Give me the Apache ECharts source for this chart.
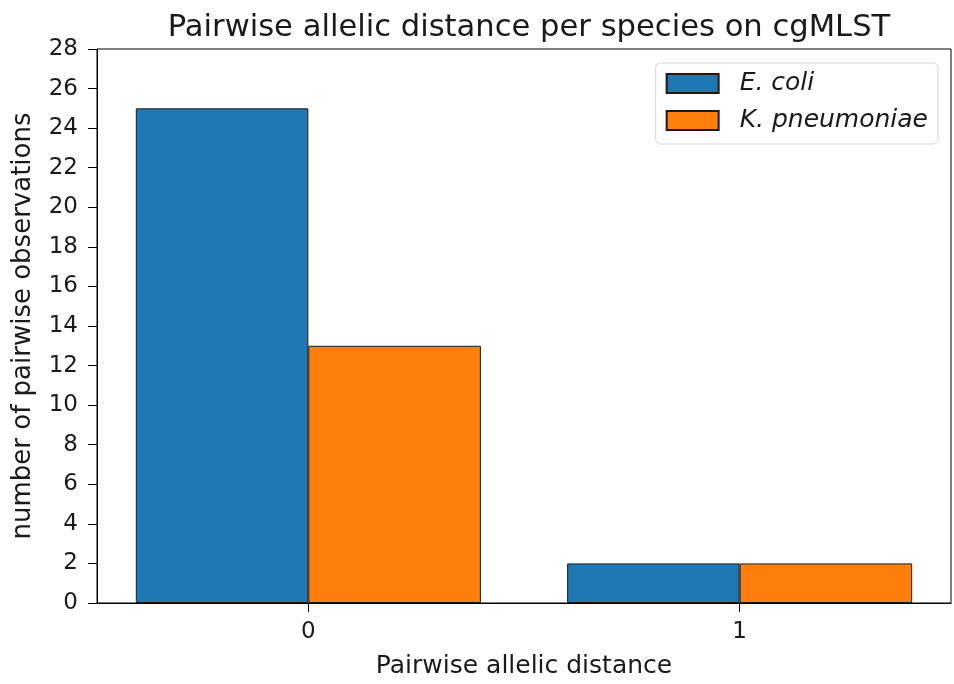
<!DOCTYPE html>
<html>
<head>
<meta charset="utf-8">
<style>
  html, body { margin: 0; padding: 0; background: #fff; }
  #chart { width: 954px; height: 684px; }
</style>
<script src="https://cdn.jsdelivr.net/npm/echarts@6/dist/echarts.min.js"></script>
</head>
<body>
<div id="chart"></div>
<script>
// Pairwise allelic distances (cgMLST) and how often each occurs per species
const distances = [0, 1];
const speciesNames = ['E. coli', 'K. pneumoniae'];
const ecoliCounts = [25, 2];
const kpneumoniaeCounts = [13, 2];
const yTicks = [0, 2, 4, 6, 8, 10, 12, 14, 16, 18, 20, 22, 24, 26, 28];

const FONT = 'DejaVu Sans';
const INK = '#1a1a1a';
const gridLeft = 97, gridRight = 3, gridTop = 49, gridBottom = 81;
const W = 954;
// x range padded by 5% of the bar extent on both sides
const xMin = -0.49, xMax = 1.49;
const unitPx = (W - gridLeft - gridRight) / (xMax - xMin);
const barPx = 0.4 * unitPx;

const chart = echarts.init(document.getElementById('chart'), null, { renderer: 'canvas' });

const edge = { borderColor: '#1a1a1a', borderWidth: 1 };

chart.setOption({
  animation: false,
  backgroundColor: '#ffffff',
  textStyle: { fontFamily: FONT },
  title: {
    text: 'Pairwise allelic distance per species on cgMLST',
    left: gridLeft + (W - gridLeft - gridRight) / 2,
    textAlign: 'center',
    top: 8,
    textStyle: { fontFamily: FONT, fontSize: 30.6, fontWeight: 'normal', color: INK }
  },
  legend: {
    data: speciesNames,
    orient: 'vertical',
    right: 16,
    top: 63,
    padding: [8, 10, 11, 10],
    itemGap: 12,
    itemWidth: 52,
    itemHeight: 19,
    borderColor: '#d6d6d6',
    borderWidth: 1,
    borderRadius: 5,
    backgroundColor: '#ffffff',
    icon: 'rect',
    textStyle: {
      fontFamily: FONT, fontSize: 25, fontStyle: 'italic', color: INK,
      lineHeight: 19, padding: [0, 0, 0, 16]
    }
  },
  grid: {
    left: gridLeft, right: gridRight, top: gridTop, bottom: gridBottom,
    show: true, borderColor: '#000', borderWidth: 1, backgroundColor: 'transparent'
  },
  xAxis: {
    type: 'value',
    min: xMin,
    max: xMax,
    name: 'Pairwise allelic distance',
    nameLocation: 'middle',
    nameGap: 51,
    nameTextStyle: { fontFamily: FONT, fontSize: 25, color: INK },
    splitLine: { show: false },
    axisLine: { show: true, onZero: false, lineStyle: { color: '#000', width: 1 } },
    axisTick: { show: true, length: 9, customValues: distances, lineStyle: { color: '#000' } },
    axisLabel: {
      customValues: distances,
      margin: 18,
      fontFamily: FONT, fontSize: 23, color: INK,
      formatter: v => String(v)
    }
  },
  yAxis: {
    type: 'value',
    min: 0,
    max: 28,
    interval: 2,
    name: 'number of pairwise observations',
    nameLocation: 'middle',
    nameGap: 61,
    nameTextStyle: { fontFamily: FONT, fontSize: 26, color: INK },
    splitLine: { show: false },
    axisLine: { show: true, onZero: false, lineStyle: { color: '#000', width: 1 } },
    axisTick: { show: true, length: 9, lineStyle: { color: '#000' } },
    axisLabel: {
      margin: 19,
      fontFamily: FONT, fontSize: 23, color: INK,
      formatter: v => yTicks.includes(v) ? String(v) : ''
    }
  },
  series: [
    {
      name: speciesNames[0],
      type: 'bar',
      barWidth: barPx,
      barGap: '0%',
      data: distances.map((d, i) => [d, ecoliCounts[i]]),
      itemStyle: Object.assign({ color: '#1f77b4' }, edge)
    },
    {
      name: speciesNames[1],
      type: 'bar',
      barWidth: barPx,
      barGap: '0%',
      data: distances.map((d, i) => [d, kpneumoniaeCounts[i]]),
      itemStyle: Object.assign({ color: '#ff7f0e' }, edge)
    }
  ]
});
</script>
</body>
</html>
